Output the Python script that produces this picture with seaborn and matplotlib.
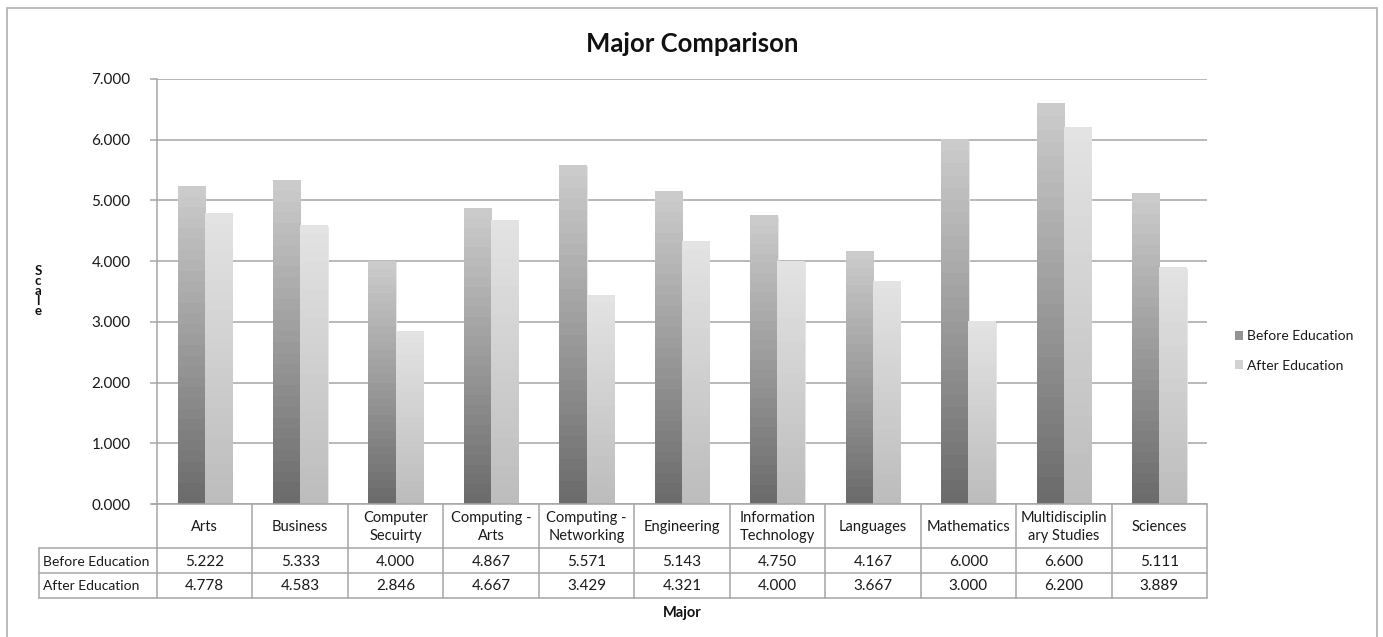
import numpy as np
import pandas as pd
import seaborn as sns
import matplotlib
matplotlib.use("Agg")
import matplotlib.pyplot as plt
from matplotlib.colors import LinearSegmentedColormap
from matplotlib.lines import Line2D
from matplotlib.patches import Patch, Rectangle

# ---- data ----
majors = ["Arts", "Business", "Computer\nSecuirty", "Computing -\nArts",
          "Computing -\nNetworking", "Engineering", "Information\nTechnology",
          "Languages", "Mathematics", "Multidisciplin\nary Studies", "Sciences"]
before_edu = [5.222, 5.333, 4.000, 4.867, 5.571, 5.143, 4.750, 4.167, 6.000, 6.600, 5.111]
after_edu = [4.778, 4.583, 2.846, 4.667, 3.429, 4.321, 4.000, 3.667, 3.000, 6.200, 3.889]
series = ["Before Education", "After Education"]
y_ticks = [0, 1, 2, 3, 4, 5, 6, 7]

df = pd.DataFrame({
    "Major": majors * 2,
    "Series": [series[0]] * len(majors) + [series[1]] * len(majors),
    "Scale": before_edu + after_edu,
})

# ---- style ----
sns.set_theme(style="white")
plt.rcParams["font.family"] = ["Lato", "DejaVu Sans"]
FONT = 10.5
GRID = "#a6a6a6"
TXT = "#1a1a1a"

W, H = 1383, 637
fig = plt.figure(figsize=(W / 100, H / 100), dpi=100)


def fx(px):
    return px / W


def fy(py):
    return 1 - py / H


# plot area in pixel coordinates
L, R, T, B = 157, 1207, 79, 504
ax = fig.add_axes([fx(L), fy(B), fx(R - L), (B - T) / H])

sns.barplot(data=df, x="Major", y="Scale", hue="Series", order=majors,
            hue_order=series, palette=["#8c8c8c", "#d0d0d0"], width=0.57,
            gap=0, dodge=True, errorbar=None, legend=False, ax=ax,
            edgecolor="none", linewidth=0)

# vertical gradient fill per bar (dark at the base, light at the top)
gradients = [("#6c6c6c", "#cbcbcb"), ("#bdbdbd", "#e3e3e3")]
levels = np.linspace(0, 1, 30).reshape(-1, 1)
for container, (c0, c1) in zip(ax.containers, gradients):
    cmap = LinearSegmentedColormap.from_list("g", [c0, c1])
    for bar in container:
        x0, w, h = bar.get_x(), bar.get_width(), bar.get_height()
        # soft shadow to the right of each bar
        ax.add_patch(Rectangle((x0 + w, 0), 0.012, h * 0.995, facecolor="#e6e6e6",
                               edgecolor="none", zorder=2.5))
        ax.imshow(levels, cmap=cmap, origin="lower", aspect="auto",
                  interpolation="nearest", extent=[x0, x0 + w, 0, h], zorder=3)
        bar.set_visible(False)

ax.set_xlim(-0.5, len(majors) - 0.5)
ax.set_ylim(0, 7)
ax.set_yticks(y_ticks)
ax.set_yticklabels([f"{v:.3f}" for v in y_ticks], fontsize=FONT + 0.5, color=TXT)
ax.set_xticks([])
ax.set_xlabel("")
ax.set_ylabel("")
ax.yaxis.grid(True, color=GRID, linewidth=1.1)
ax.set_axisbelow(True)
for s in ["top", "right", "bottom"]:
    ax.spines[s].set_visible(False)
ax.spines["left"].set_color(GRID)
ax.spines["left"].set_linewidth(1.1)
ax.tick_params(axis="y", which="both", left=True, length=5, width=1.1,
               color=GRID, pad=14)

# ---- data table under the axis ----
col_w = (R - L) / len(majors)
rows_y = [B, 548, 573, 598]
label_x0 = 39


def hline(x0, x1, y):
    fig.add_artist(Line2D([fx(x0), fx(x1)], [fy(y), fy(y)], color=GRID, lw=1.1))


def vline(x, y0, y1):
    fig.add_artist(Line2D([fx(x), fx(x)], [fy(y0), fy(y1)], color=GRID, lw=1.1))


hline(L - 5, R, rows_y[0])
for y in rows_y[1:]:
    hline(label_x0, R, y)
vline(label_x0, rows_y[1], rows_y[3])
for i in range(len(majors) + 1):
    vline(L + i * col_w, rows_y[0], rows_y[3])

for i, name in enumerate(majors):
    cx = L + (i + 0.5) * col_w
    fig.text(fx(cx), fy((rows_y[0] + rows_y[1]) / 2 + 1), name, ha="center",
             va="center", fontsize=FONT, color=TXT, linespacing=1.3)
    fig.text(fx(cx), fy((rows_y[1] + rows_y[2]) / 2 + 1), f"{before_edu[i]:.3f}",
             ha="center", va="center", fontsize=FONT + 0.5, color=TXT)
    fig.text(fx(cx), fy((rows_y[2] + rows_y[3]) / 2 + 1), f"{after_edu[i]:.3f}",
             ha="center", va="center", fontsize=FONT + 0.5, color=TXT)

for j, name in enumerate(series):
    fig.text(fx(label_x0 + 4), fy((rows_y[j + 1] + rows_y[j + 2]) / 2 + 1), name,
             ha="left", va="center", fontsize=10, color=TXT)

# ---- titles ----
fig.text(fx(692), fy(44), "Major Comparison", ha="center", va="center",
         fontsize=18.5, fontweight="bold", color="#111111")
fig.text(fx((L + R) / 2), fy(613), "Major", ha="center", va="center",
         fontsize=FONT, fontweight="bold", color="#111111")
fig.text(fx(38), fy(291), "\n".join("Scale"), ha="center", va="center",
         fontsize=9.5, fontweight="bold", color="#111111", linespacing=0.8)

# ---- legend ----
handles = [Patch(facecolor="#939393", edgecolor="none"),
           Patch(facecolor="#d2d2d2", edgecolor="none")]
fig.legend(handles, series, loc="center left",
           bbox_to_anchor=(fx(1222), fy(351)), frameon=False, fontsize=10,
           handlelength=0.6, handleheight=0.6, handletextpad=0.3,
           labelspacing=1.25, labelcolor=TXT)

# ---- outer chart frame ----
fig.add_artist(Rectangle((fx(7), fy(H + 5)), fx(1377 - 7), (H + 5 - 8) / H,
                         fill=False, edgecolor="#b5b5b5", lw=1.3))

fig.savefig("out.png", dpi=100, facecolor="white")
